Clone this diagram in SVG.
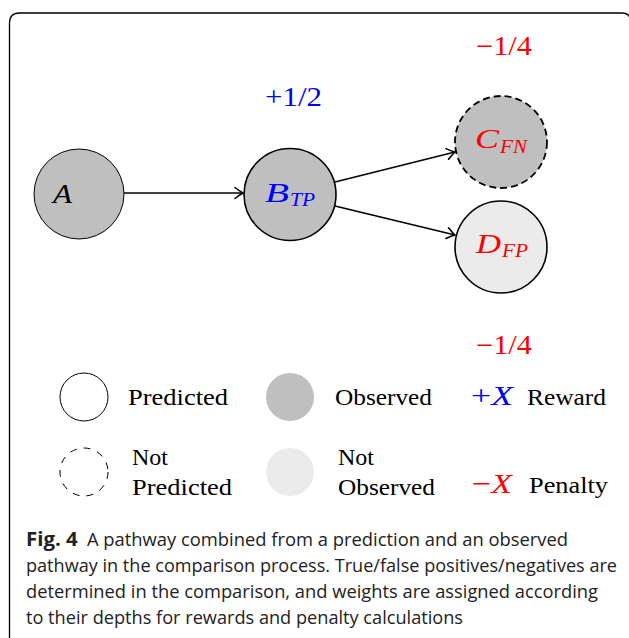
<svg xmlns="http://www.w3.org/2000/svg" width="629" height="638" viewBox="0 0 629 638">
<style>
.m{font-family:"Liberation Serif","DejaVu Serif",serif;font-size:27px}
.i{font-style:italic}
.sub{font-family:"Liberation Serif","DejaVu Serif",serif;font-size:19px;font-style:italic}
.leg{font-family:"Liberation Serif","DejaVu Serif",serif;font-size:24px;fill:#000}
.sym{font-family:"Liberation Serif","DejaVu Serif",serif;font-size:28px}
.cap{font-family:"Open Sans","Liberation Sans",sans-serif;font-size:18px;fill:#222}
.blue{fill:#0000ff}
.red{fill:#ff0000}
.obs{fill:#bfbfbf}
.nobs{fill:#ebebeb}
.conn{stroke:#000;stroke-width:1.6;fill:none}
</style>
<defs>
<marker id="arr" viewBox="-10 -7 12 14" refX="0" refY="0" markerWidth="12" markerHeight="14" markerUnits="userSpaceOnUse" orient="auto">
<path d="M -8 -5.5 Q -3 -1.5 0 0 Q -3 1.5 -8 5.5" fill="none" stroke="#000" stroke-width="1.6" stroke-linecap="round"/>
</marker>
</defs>
<rect width="629" height="638" fill="#fff"/>
<path d="M 9.5 638 V 23 Q 9.5 13 19.5 13 H 622 Q 628 13 629.5 17" fill="none" stroke="#000" stroke-width="1.3"/>

<g id="connectors">
<line class="conn" x1="124" y1="193" x2="243" y2="193" marker-end="url(#arr)"/>
<line class="conn" x1="335" y1="182" x2="455" y2="152" marker-end="url(#arr)"/>
<line class="conn" x1="335" y1="206" x2="455" y2="235" marker-end="url(#arr)"/>
</g>

<g id="nodeA">
<circle cx="79" cy="194" r="45" class="obs" stroke="#000" stroke-width="1"/>
<text class="m i" x="53" y="203" textLength="19" lengthAdjust="spacingAndGlyphs">A</text>
</g>
<g id="nodeB">
<circle cx="290" cy="194.5" r="46" class="obs" stroke="#000" stroke-width="1.6"/>
<text class="m i blue" x="265" y="202" textLength="24" lengthAdjust="spacingAndGlyphs">B</text>
<text class="sub blue" x="290" y="206" textLength="25" lengthAdjust="spacingAndGlyphs">TP</text>
</g>
<g id="nodeC">
<circle cx="501" cy="142" r="46" class="obs" stroke="#000" stroke-width="1.8" stroke-dasharray="7 4"/>
<text class="m i red" x="475" y="148" textLength="24" lengthAdjust="spacingAndGlyphs">C</text>
<text class="sub red" x="500" y="153" textLength="27" lengthAdjust="spacingAndGlyphs">FN</text>
</g>
<g id="nodeD">
<circle cx="501" cy="247" r="46" class="nobs" stroke="#000" stroke-width="1.6"/>
<text class="m i red" x="476" y="253" textLength="25" lengthAdjust="spacingAndGlyphs">D</text>
<text class="sub red" x="502" y="257" textLength="26" lengthAdjust="spacingAndGlyphs">FP</text>
</g>

<g id="weights">
<text class="m blue" x="265" y="106" textLength="57" lengthAdjust="spacingAndGlyphs">+1/2</text>
<text class="m red" x="476" y="55" textLength="56" lengthAdjust="spacingAndGlyphs">−1/4</text>
<text class="m red" x="476" y="354" textLength="56" lengthAdjust="spacingAndGlyphs">−1/4</text>
</g>

<g id="legend">
<circle cx="84" cy="397" r="24" fill="#fff" stroke="#000" stroke-width="1"/>
<text class="leg" x="128" y="405" textLength="100" lengthAdjust="spacingAndGlyphs">Predicted</text>
<circle cx="290" cy="397" r="24" class="obs"/>
<text class="leg" x="335" y="405" textLength="97" lengthAdjust="spacingAndGlyphs">Observed</text>
<text class="sym blue" x="471" y="405" textLength="42" lengthAdjust="spacingAndGlyphs">+<tspan class="i">X</tspan></text>
<text class="leg" x="527" y="405" textLength="79" lengthAdjust="spacingAndGlyphs">Reward</text>

<circle cx="84" cy="472" r="24" fill="#fff" stroke="#000" stroke-width="1" stroke-dasharray="7 7"/>
<text class="leg" x="132" y="465">Not</text>
<text class="leg" x="132" y="495" textLength="100" lengthAdjust="spacingAndGlyphs">Predicted</text>
<circle cx="290" cy="472" r="24" class="nobs"/>
<text class="leg" x="338" y="465">Not</text>
<text class="leg" x="338" y="495" textLength="97" lengthAdjust="spacingAndGlyphs">Observed</text>
<text class="sym red" x="472" y="493" textLength="40" lengthAdjust="spacingAndGlyphs">−<tspan class="i">X</tspan></text>
<text class="leg" x="529" y="493" textLength="79" lengthAdjust="spacingAndGlyphs">Penalty</text>
</g>

<g id="caption">
<text class="cap" x="26" y="546" textLength="542" lengthAdjust="spacingAndGlyphs"><tspan font-weight="bold" font-size="20">Fig. 4</tspan><tspan dx="9">A pathway combined from a prediction and an observed</tspan></text>
<text class="cap" x="26" y="572" textLength="591" lengthAdjust="spacingAndGlyphs">pathway in the comparison process. True/false positives/negatives are</text>
<text class="cap" x="26" y="598" textLength="572" lengthAdjust="spacingAndGlyphs">determined in the comparison, and weights are assigned according</text>
<text class="cap" x="26" y="624" textLength="437" lengthAdjust="spacingAndGlyphs">to their depths for rewards and penalty calculations</text>
</g>
</svg>
